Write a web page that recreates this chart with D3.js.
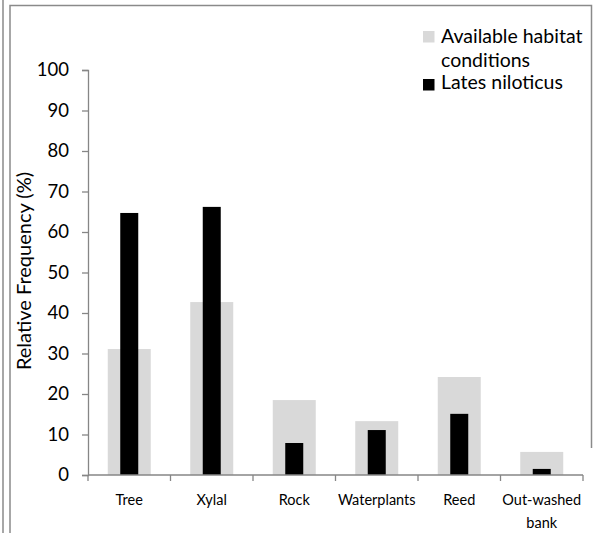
<!DOCTYPE html>
<html><head><meta charset="utf-8">
<script src="https://cdn.jsdelivr.net/npm/d3@7"></script>
<style>body{margin:0;background:#fff}svg{display:block;font-family:Lato,"Open Sans",sans-serif}</style>
</head><body><svg id="c" width="595" height="533"></svg>
<script>
const categories = ["Tree","Xylal","Rock","Waterplants","Reed","Out-washed bank"];
const available = [31.1, 42.7, 18.5, 13.3, 24.2, 5.7];
const lates = [64.7, 66.2, 7.9, 11.1, 15.1, 1.5];
const yTicks = [0,10,20,30,40,50,60,70,80,90,100];
const seriesNames = ["Available habitat conditions","Lates niloticus"];

(function(){
const svg = d3.select("#c");
const mL = 88, mR = 583, mT = 70, mB = 475;
const x = d3.scaleBand().domain(categories).range([mL, mR]).paddingInner(0).paddingOuter(0);
const y = d3.scaleLinear().domain([0,100]).range([mB, mT]);
const axisColor = "#868686";

// frame
svg.append("line").attr("x1",3).attr("x2",3).attr("y1",0).attr("y2",533).attr("stroke","#8a8a8a").attr("stroke-width",1.5);
svg.append("path").attr("d","M10,533V5.5H591.5V448").attr("fill","none").attr("stroke","#8a8a8a").attr("stroke-width",1.5);

const gw = 43, bw = 18;
svg.append("g").selectAll("rect").data(categories).join("rect")
  .attr("x", (d)=>x(d)+x.bandwidth()/2-gw/2).attr("width", gw)
  .attr("y", (d,i)=>y(available[i])).attr("height",(d,i)=>y(0)-y(available[i]))
  .attr("fill","#d9d9d9");
svg.append("g").selectAll("rect").data(categories).join("rect")
  .attr("x", (d)=>x(d)+x.bandwidth()/2-bw/2).attr("width", bw)
  .attr("y", (d,i)=>y(lates[i])).attr("height",(d,i)=>y(0)-y(lates[i]))
  .attr("fill","#000");

// y axis
const ya = svg.append("g").attr("transform",`translate(${mL},0)`)
  .call(d3.axisLeft(y).tickValues(yTicks).tickSize(6).tickPadding(13));
ya.select(".domain").attr("stroke",axisColor).attr("stroke-width",1.3);
ya.selectAll(".tick line").attr("stroke",axisColor).attr("stroke-width",1.3);
ya.selectAll(".tick text").attr("font-size",18.5).attr("fill","#000").attr("font-family","Lato");

// x axis
const xa = svg.append("g").attr("transform",`translate(0,${mB})`);
xa.append("line").attr("x1",mL).attr("x2",mR).attr("stroke",axisColor).attr("stroke-width",1.3);
const edges = categories.map(d=>x(d)).concat([mR]);
xa.selectAll("line.t").data(edges).join("line").attr("class","t")
  .attr("x1",d=>d).attr("x2",d=>d).attr("y1",0).attr("y2",6).attr("stroke",axisColor).attr("stroke-width",1.3);
const xl = xa.selectAll("text").data(categories).join("text")
  .attr("x", d=>x(d)+x.bandwidth()/2).attr("y",30)
  .attr("text-anchor","middle").attr("font-size",14.5).attr("fill","#000");
xl.each(function(d){
  const parts = d === "Out-washed bank" ? ["Out-washed","bank"] : [d];
  const t = d3.select(this);
  parts.forEach((p,i)=>t.append("tspan").attr("x", x(d)+x.bandwidth()/2).attr("dy", i===0?0:23).text(p));
});

// y title
svg.append("text").attr("transform","translate(31,271) rotate(-90)")
  .attr("text-anchor","middle").attr("font-size",20).attr("fill","#000").text("Relative Frequency (%)");

// legend
const lg = svg.append("g");
lg.append("rect").attr("x",423).attr("y",31).attr("width",11.5).attr("height",11.5).attr("fill","#d9d9d9");
lg.append("rect").attr("x",423).attr("y",79).attr("width",11.5).attr("height",11.5).attr("fill","#000");
const t1 = lg.append("text").attr("font-size",19.5).attr("fill","#000");
t1.append("tspan").attr("x",441).attr("y",43).text("Available habitat");
t1.append("tspan").attr("x",441).attr("y",67).text("conditions");
lg.append("text").attr("x",441).attr("y",89).attr("font-size",19.5).attr("fill","#000").text(seriesNames[1]);
})();
</script></body></html>
